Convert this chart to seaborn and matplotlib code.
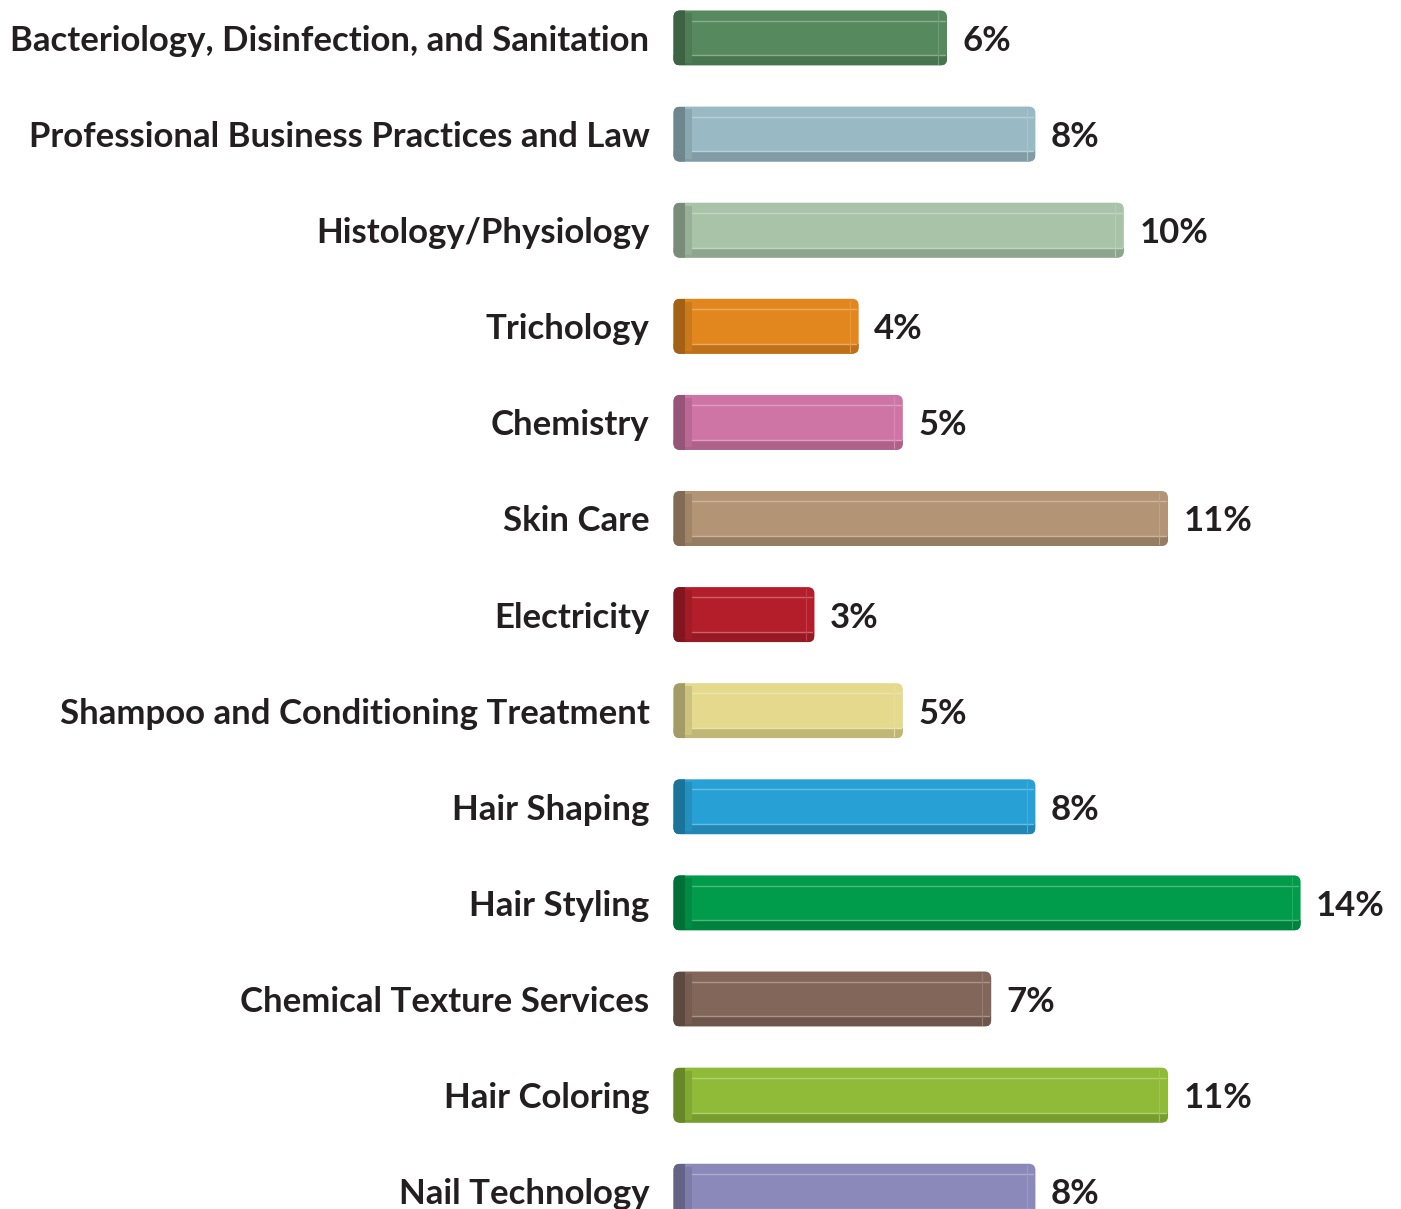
import seaborn as sns
import pandas as pd
import matplotlib.pyplot as plt
import matplotlib.colors as mcolors
from matplotlib.patches import FancyBboxPatch, Rectangle

# Chart data
categories = [
    "Bacteriology, Disinfection, and Sanitation",
    "Professional Business Practices and Law",
    "Histology/Physiology",
    "Trichology",
    "Chemistry",
    "Skin Care",
    "Electricity",
    "Shampoo and Conditioning Treatment",
    "Hair Shaping",
    "Hair Styling",
    "Chemical Texture Services",
    "Hair Coloring",
    "Nail Technology",
]
values = [6, 8, 10, 4, 5, 11, 3, 5, 8, 14, 7, 11, 8]
value_labels = ["6%", "8%", "10%", "4%", "5%", "11%", "3%", "5%", "8%", "14%", "7%", "11%", "8%"]
colors = ["#568A5E", "#99BAC4", "#A8C3A8", "#E2871E", "#CF75A6", "#B39475", "#B41E2A",
          "#E4D98D", "#27A0D5", "#009B4B", "#83665A", "#8FBB38", "#8B89B9"]

df = pd.DataFrame({"topic": categories, "pct": values})

sns.set_style("white")
plt.rcParams['font.family'] = ['Lato', 'DejaVu Sans']
text_color = "#231F20"
fsize = 25

fig = plt.figure(figsize=(14.01, 12.09), dpi=100)
ax = fig.add_axes([0.4804, 0.0, 0.511, 1.0])

sns.barplot(data=df, x="pct", y="topic", hue="topic", palette=colors, legend=False,
            orient="h", width=0.572, ax=ax)


def shade(c, f):
    r, g, b = mcolors.to_rgb(c)
    return (r * f, g * f, b * f)


def tint(c, f):
    r, g, b = mcolors.to_rgb(c)
    return (r + (1 - r) * f, g + (1 - g) * f, b + (1 - b) * f)


cap = 0.19  # 3D end cap sticking out left of zero
for p, col, lab in zip(ax.patches, colors, value_labels):
    x, y, w, h = p.get_x(), p.get_y(), p.get_width(), p.get_height()
    p.set_visible(False)
    box = FancyBboxPatch((x - cap, y), w + cap, h,
                         boxstyle="round,pad=0,rounding_size=0.15",
                         mutation_aspect=0.46, facecolor=col, edgecolor="none", zorder=2)
    ax.add_patch(box)
    # bottom dark strip
    r = Rectangle((x - cap, y + h - 0.105), w + cap, 0.105, facecolor=shade(col, 0.84),
                  edgecolor="none", zorder=3)
    r.set_clip_path(box)
    ax.add_patch(r)
    # left end cap
    r = Rectangle((x - cap, y), 0.27, h, facecolor=shade(col, 0.72), edgecolor="none", zorder=4)
    r.set_clip_path(box)
    ax.add_patch(r)
    r = Rectangle((x + 0.08, y + 0.03), 0.16, h - 0.06, facecolor=shade(col, 0.9),
                  edgecolor="none", zorder=4)
    ax.add_patch(r)
    # highlight lines
    hl = tint(col, 0.3)
    ax.plot([x + 0.24, x + w - 0.05], [y + 0.105, y + 0.105], color=hl, lw=1, zorder=5)
    ax.plot([x + 0.24, x + w - 0.05], [y + h - 0.105, y + h - 0.105], color=hl, lw=1, zorder=5)
    ax.plot([x + w - 0.2, x + w - 0.2], [y + 0.02, y + h - 0.02], color=tint(col, 0.15), lw=0.8, zorder=5)
    ax.text(x + w + 0.35, y + h / 2, lab, ha="left", va="center_baseline",
            fontsize=fsize, fontweight="bold", color=text_color)

ax.set_xlim(-0.2, 16)
ax.set_ylim(12.185, -0.395)
ax.set_xlabel("")
ax.set_ylabel("")
ax.set_xticks([])
ax.tick_params(axis="y", length=0, pad=17)
for t in ax.get_yticklabels():
    t.set_fontsize(fsize)
    t.set_fontweight("bold")
    t.set_color(text_color)
sns.despine(ax=ax, left=True, bottom=True)

fig.savefig("out.png", dpi=100)
